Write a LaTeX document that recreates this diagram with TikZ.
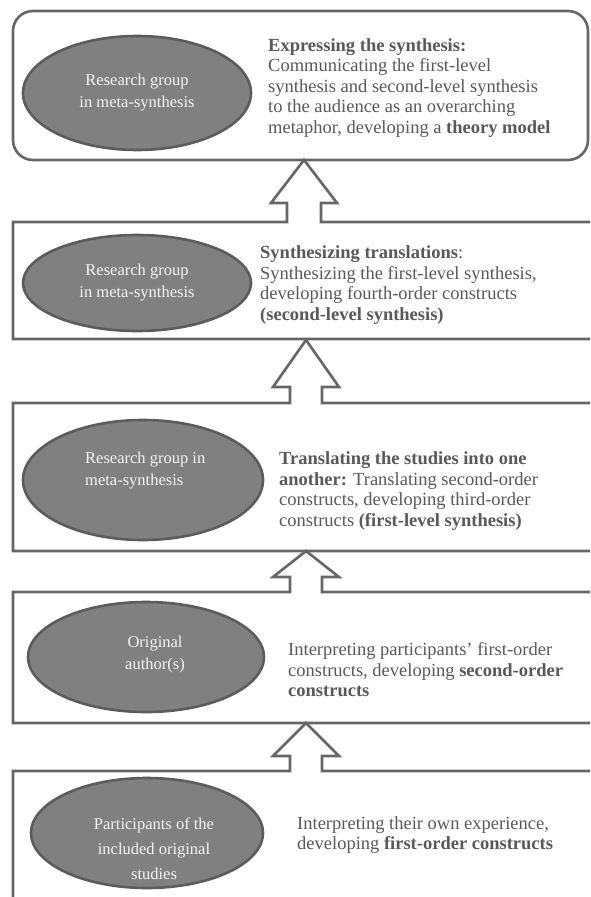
\documentclass[tikz,border=0pt]{standalone}
\usepackage{fontspec}
\setmainfont{Liberation Serif}
\usetikzlibrary{shapes.geometric}
\definecolor{linegray}{HTML}{666666}
\definecolor{ellfill}{HTML}{808080}
\definecolor{ellline}{HTML}{5C5C5C}
\definecolor{txtgray}{HTML}{595959}
\definecolor{ovtxt}{HTML}{F4F4F4}
\begin{document}
\begin{tikzpicture}[x=1pt,y=-1pt,
  frame/.style={draw=linegray, line width=2.6pt},
  oval/.style={ellipse, draw=ellline, fill=ellfill, line width=2.6pt, inner sep=0pt},
  ovaltext/.style={text=ovtxt, font=\fontsize{16.5}{22}\selectfont, align=center, inner sep=0pt},
  desc/.style={text=txtgray, font=\fontsize{18.5}{20.5}\selectfont, align=left, anchor=west, inner sep=0pt}]
\useasboundingbox (0,0) rectangle (590,897);
\clip (0,0) rectangle (590,897);
\fill[white] (0,0) rectangle (590,897);

% level 1 (top)
\draw[frame, rounded corners=20pt] (13,11) rectangle (588,160);
\node[oval, minimum width=228pt, minimum height=114pt] (e1) at (137,93) {};
\node[ovaltext] (o1) at (e1.center) {Research group\\in meta-synthesis};
\node[desc] (t1) at (268,88) {\textbf{Expressing the synthesis:}\\Communicating the first-level\\synthesis and second-level synthesis\\to the audience as an overarching\\metaphor, developing a \textbf{theory model}};

% level 2
\coordinate (tip1) at (304,160);
\draw[frame] (600,222) -- (321,222) -- (321,203) -- (337,203) -- (tip1) -- (271,203) -- (287,203) -- (287,222) -- (13,222) -- (13,339) -- (600,339);
\node[oval, minimum width=228pt, minimum height=96pt] (e2) at (137,283) {};
\node[ovaltext] (o2) at (e2.center) {Research group\\in meta-synthesis};
\node[desc] (t2) at (260,285) {\textbf{Synthesizing translations}:\\Synthesizing the first-level synthesis,\\developing fourth-order constructs\\\textbf{(second-level synthesis)}};

% level 3
\coordinate (tip2) at (306,340);
\draw[frame] (600,403) -- (322,403) -- (322,387) -- (339,387) -- (tip2) -- (273,387) -- (290,387) -- (290,403) -- (13,403) -- (13,551) -- (600,551);
\node[oval, minimum width=240pt, minimum height=120pt] (e3) at (143,480) {};
\node[ovaltext, align=left, anchor=west] (o3) at (85,471) {Research group in\\meta-synthesis};
\node[desc] (t3) at (279,491) {\textbf{Translating the studies into one}\\\textbf{another:} Translating second-order\\constructs, developing third-order\\constructs \textbf{(first-level synthesis)}};

% level 4
\coordinate (tip3) at (306,551);
\draw[frame] (600,592) -- (322,592) -- (322,577) -- (339,577) -- (tip3) -- (273,577) -- (290,577) -- (290,592) -- (13,592) -- (13,723) -- (600,723);
\node[oval, minimum width=236pt, minimum height=110pt] (e4) at (146,657) {};
\node[ovaltext] (o4) at (155,655) {Original\\author(s)};
\node[desc] (t4) at (288,670) {Interpreting participants’ first-order\\constructs, developing \textbf{second-order}\\\textbf{constructs}};

% level 5
\coordinate (tip4) at (306,723);
\draw[frame] (600,771) -- (322,771) -- (322,756) -- (339,756) -- (tip4) -- (273,756) -- (290,756) -- (290,771) -- (13,771) -- (13,910);
\node[oval, minimum width=232pt, minimum height=110pt] (e5) at (147,833) {};
\node[ovaltext, font=\fontsize{16.5}{25}\selectfont] (o5) at (154,849) {Participants of the\\included original\\studies};
\node[desc] (t5) at (297,835) {Interpreting their own experience,\\developing \textbf{first-order constructs}};
\end{tikzpicture}
\end{document}
